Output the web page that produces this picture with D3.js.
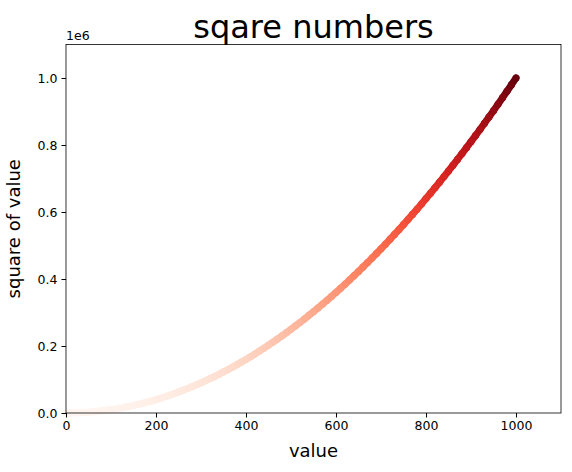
<!DOCTYPE html>
<html><head><meta charset="utf-8">
<script src="https://cdn.jsdelivr.net/npm/d3@7"></script>
<style>body{margin:0;background:#fff}text{font-family:"DejaVu Sans",sans-serif}</style>
</head><body><svg id="c" width="572" height="472"></svg>
<script>
const xValues=[0,10,20,30,40,50,60,70,80,90,100,110,120,130,140,150,160,170,180,190,200,210,220,230,240,250,260,270,280,290,300,310,320,330,340,350,360,370,380,390,400,410,420,430,440,450,460,470,480,490,500,510,520,530,540,550,560,570,580,590,600,610,620,630,640,650,660,670,680,690,700,710,720,730,740,750,760,770,780,790,800,810,820,830,840,850,860,870,880,890,900,910,920,930,940,950,960,970,980,990,1000];
const yValues=[0,100,400,900,1600,2500,3600,4900,6400,8100,10000,12100,14400,16900,19600,22500,25600,28900,32400,36100,40000,44100,48400,52900,57600,62500,67600,72900,78400,84100,90000,96100,102400,108900,115600,122500,129600,136900,144400,152100,160000,168100,176400,184900,193600,202500,211600,220900,230400,240100,250000,260100,270400,280900,291600,302500,313600,324900,336400,348100,360000,372100,384400,396900,409600,422500,435600,448900,462400,476100,490000,504100,518400,532900,547600,562500,577600,592900,608400,624100,640000,656100,672400,688900,705600,722500,739600,756900,774400,792100,810000,828100,846400,864900,883600,902500,921600,940900,960400,980100,1000000];
const xTicks=[0,200,400,600,800,1000];
const yTicks=[0,200000,400000,600000,800000,1000000];
const svg=d3.select("#c");
const L=66,R=561,T=44.5,B=413;
const x=d3.scaleLinear().domain([0,1100]).range([L,R]);
const y=d3.scaleLinear().domain([0,1100000]).range([B,T]);
const col=d3.scaleSequential(d3.interpolateReds).domain([0,1000000]);
const pts=xValues.map((d,i)=>({x:d,y:yValues[i]}));
const g=svg.append("g");
g.selectAll("line").data(pts.slice(1)).join("line")
 .attr("x1",(d,i)=>x(pts[i].x)).attr("y1",(d,i)=>y(pts[i].y))
 .attr("x2",d=>x(d.x)).attr("y2",d=>y(d.y))
 .attr("stroke",d=>col(d.y)).attr("stroke-width",7).attr("stroke-linecap","round");
g.selectAll("circle").data(pts).join("circle")
 .attr("cx",d=>x(d.x)).attr("cy",d=>y(d.y)).attr("r",3.5).attr("fill",d=>col(d.y));
const gx=svg.append("g").attr("transform",`translate(0,${B})`).call(d3.axisBottom(x).tickValues(xTicks).tickSize(4.5).tickPadding(4).tickFormat(d3.format("d")));
const gy=svg.append("g").attr("transform",`translate(${L},0)`).call(d3.axisLeft(y).tickValues(yTicks).tickSize(4.5).tickPadding(4).tickFormat(d=>(d/1e6).toFixed(1)));
[gx,gy].forEach(g=>{g.selectAll("text").attr("font-size",12.5).attr("fill","#000");g.select(".domain").remove();});
svg.append("rect").attr("x",L).attr("y",T).attr("width",R-L).attr("height",B-T).attr("fill","none").attr("stroke","#000").attr("stroke-width",0.8);
svg.append("text").attr("x",L).attr("y",T-5).attr("font-size",12.5).text("1e6");
svg.append("text").attr("x",(L+R)/2).attr("y",T-7).attr("text-anchor","middle").attr("font-size",32).text("sqare numbers");
svg.append("text").attr("x",(L+R)/2).attr("y",B+44).attr("text-anchor","middle").attr("font-size",18).text("value");
svg.append("text").attr("transform",`translate(${L-46},${(T+B)/2}) rotate(-90)`).attr("text-anchor","middle").attr("font-size",18).text("square of value");
</script></body></html>
